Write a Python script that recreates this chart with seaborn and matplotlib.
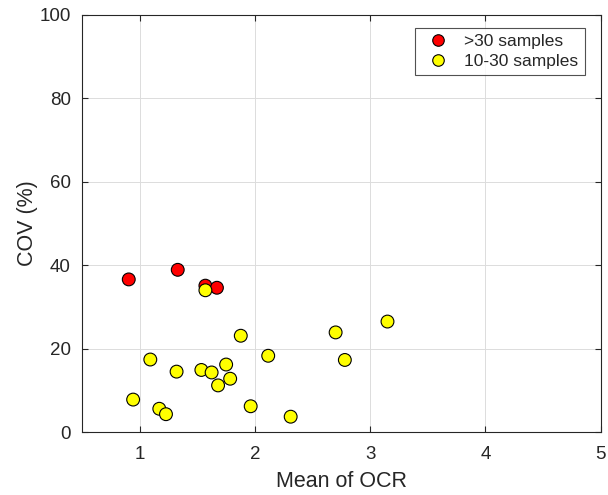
import numpy as np
import pandas as pd
import matplotlib
matplotlib.use("Agg")
import matplotlib.pyplot as plt
import seaborn as sns

# >30 samples
ocr_big = [0.905, 1.33, 1.57, 1.67]
cov_big = [36.6, 38.9, 35.1, 34.6]

# 10-30 samples
ocr_small = [1.57, 1.877, 2.70, 1.092, 2.115, 2.78, 1.32, 1.535, 1.624, 1.75,
             1.785, 1.68, 0.943, 1.17, 1.228, 1.963, 2.31, 3.15]
cov_small = [34.0, 23.1, 23.9, 17.4, 18.3, 17.3, 14.5, 14.9, 14.3, 16.2,
             12.8, 11.2, 7.8, 5.6, 4.3, 6.2, 3.7, 26.5]

groups = [">30 samples", "10-30 samples"]
colors = ["#ff0000", "#ffff00"]

df = pd.DataFrame({
    "ocr": ocr_big + ocr_small,
    "cov": cov_big + cov_small,
    "grp": [groups[0]] * len(ocr_big) + [groups[1]] * len(ocr_small),
})

sns.set_style("white")
plt.rcParams['font.family'] = ['Liberation Sans', 'DejaVu Sans']

fig = plt.figure(figsize=(6.08, 4.95), dpi=100)
ax = fig.add_axes([0.135, 0.127, 0.853, 0.843])

sns.scatterplot(data=df, x="ocr", y="cov", hue="grp", hue_order=groups,
                palette=colors, s=85, edgecolor="black", linewidth=0.8,
                ax=ax, zorder=3)

ax.set_xlim(0.5, 5)
ax.set_ylim(0, 100)
ax.set_xticks([1, 2, 3, 4, 5])
ax.set_yticks([0, 20, 40, 60, 80, 100])
ax.grid(True, color="#dcdcdc", linewidth=0.7)
ax.set_axisbelow(True)
for sp in ax.spines.values():
    sp.set_color("#262626")
    sp.set_linewidth(0.8)
ax.tick_params(direction="in", length=4, color="#262626", labelcolor="#262626",
               labelsize=13.5, top=True, right=True, bottom=True, left=True,
               labeltop=False, labelright=False)
ax.tick_params(axis="x", pad=10)
ax.tick_params(axis="y", pad=8)
ax.set_xlabel("Mean of OCR", fontsize=15.5, color="#262626", labelpad=6)
ax.set_ylabel("COV (%)", fontsize=15.5, color="#262626", labelpad=1)

leg = ax.legend(loc="upper right", bbox_to_anchor=(0.969, 0.969), fontsize=12.5,
                frameon=True, fancybox=False, edgecolor="#262626",
                handletextpad=0.5, borderpad=0.35, labelspacing=0.3,
                borderaxespad=0, markerscale=0.9)
leg.get_frame().set_linewidth(0.8)

fig.savefig("out.png", dpi=100)
